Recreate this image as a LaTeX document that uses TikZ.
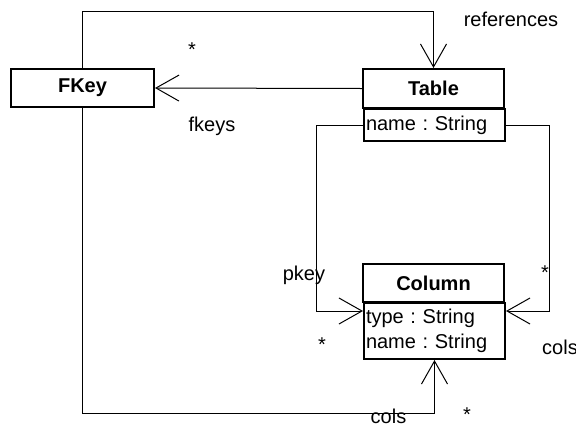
\documentclass[tikz,border=0pt]{standalone}
\usepackage{fontspec}
\setmainfont{Liberation Sans}
\usetikzlibrary{arrows.meta}
\frenchspacing
\begin{document}
\begin{tikzpicture}[x=1pt,y=-1pt,
  txt/.style={font=\fontsize{20}{25}\selectfont},
  box/.style={draw, line width=2pt, inner sep=0pt, txt},
  title/.style={box, font=\fontsize{20}{25}\selectfont\bfseries, align=center},
  attrs/.style={box, anchor=north west, align=left, text width=137pt, inner xsep=2pt},
  conn/.style={line width=1pt, -{Straight Barb[length=23pt,width=26pt,line width=1pt]}},
  lbl/.style={inner sep=0pt, txt},
  mult/.style={lbl, anchor=north}]
\useasboundingbox (0,0) rectangle (576,424);

% classes
\node[title, minimum width=143pt, minimum height=38pt] (fkey) at (82.5,88) {FKey};
\node[title, minimum width=141pt, minimum height=39pt] (tableT) at (433.5,88.5) {Table};
\node[attrs, minimum height=32pt] (tableA) at (363,108) {name : String};
\node[title, minimum width=141pt, minimum height=38pt] (colT) at (433.5,283) {Column};
\node[attrs, minimum height=56pt] (colA) at (363,302) {type : String\\name : String};

% routing helpers
\coordinate (topY) at (0,11);
\coordinate (botY) at (0,413);
\coordinate (rowY) at (0,311);
\coordinate (leftX) at (316,0);
\coordinate (rightX) at (549,0);

% associations
\draw[conn] (fkey.north) -- (fkey.north |- topY) -| (tableT.north);
\draw[conn] (tableT.west) -- (fkey.east);
\draw[conn] (tableA.west) -- (tableA.west -| leftX) -- (leftX |- rowY) -- (colA.west |- rowY);
\draw[conn] (tableA.east) -- (tableA.east -| rightX) -- (rightX |- rowY) -- (colA.east |- rowY);
\draw[conn] (fkey.south) -- (fkey.south |- botY) -| (colA.south);

% role names and multiplicities
\node[lbl] (lRefs) at (511,19) {references};
\node[mult] (mRefs) at (192,43) {*};
\node[lbl] (lFkeys) at (212,126) {fkeys};
\node[lbl] (lPkey) at (304,275) {pkey};
\node[mult] (mPkey) at (322,338) {*};
\node[mult] (mCols) at (545,266) {*};
\node[lbl, anchor=west] (lCols) at (542,347) {cols};
\node[lbl] (lCols2) at (388.5,416) {cols};
\node[mult] (mCols2) at (467,408) {*};
\end{tikzpicture}
\end{document}
